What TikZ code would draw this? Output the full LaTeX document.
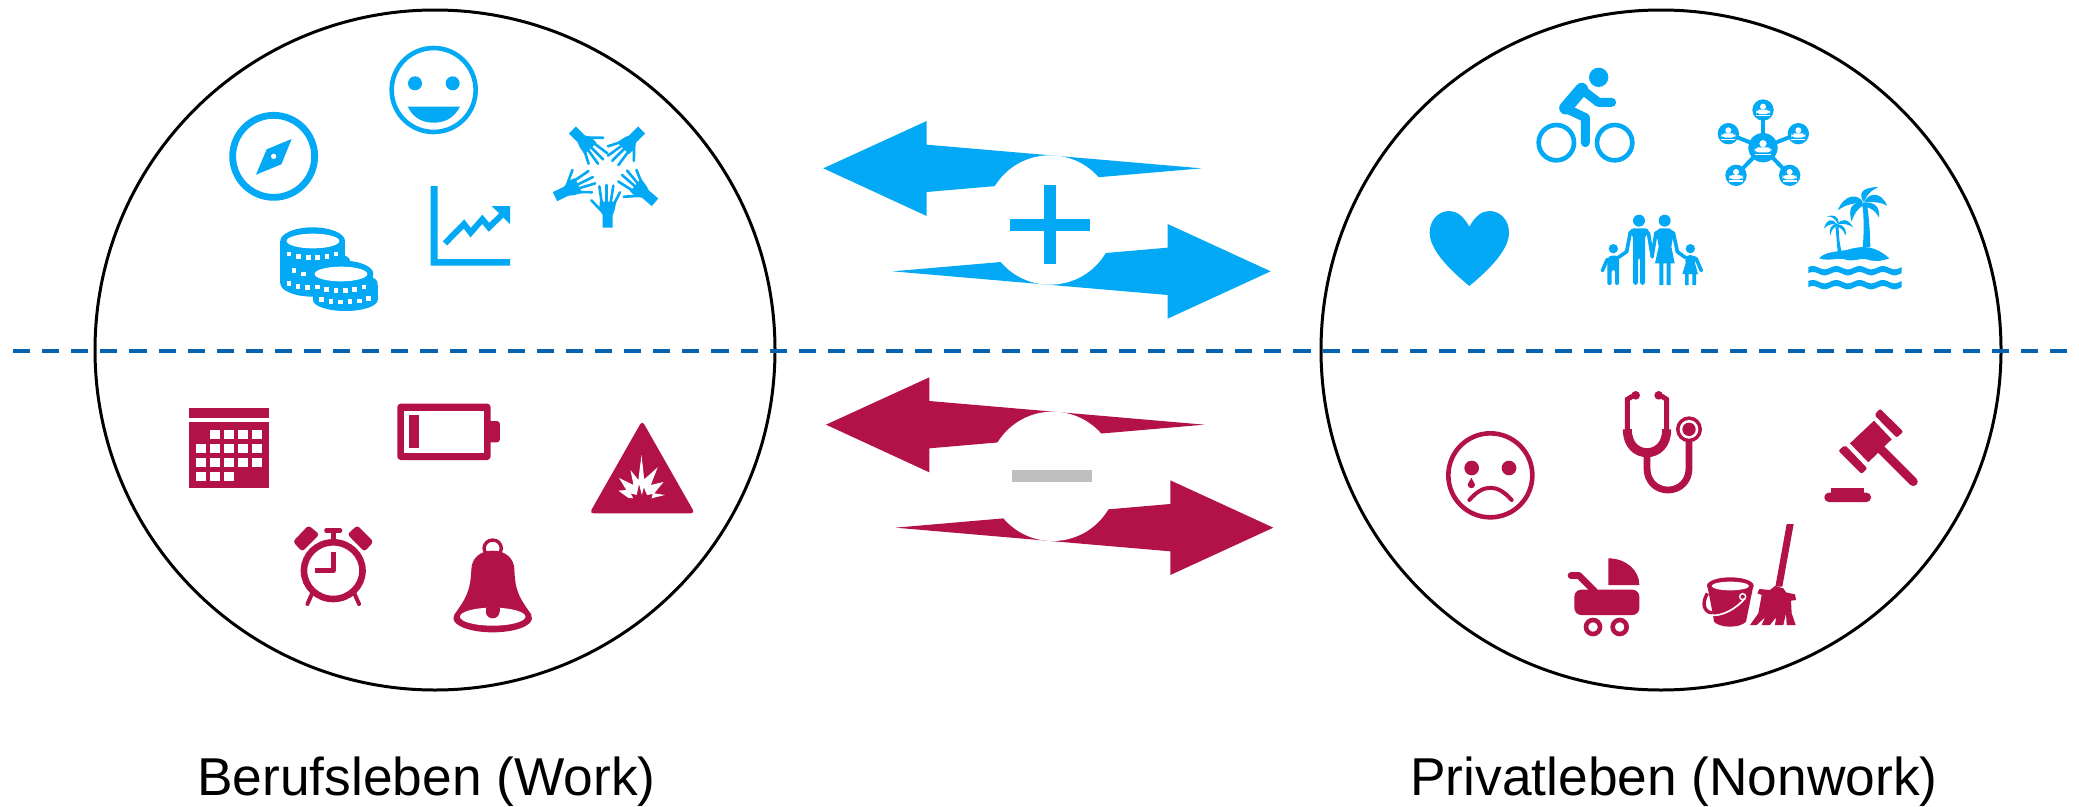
\documentclass[tikz,border=0pt]{standalone}
\usepackage{fontspec}
\setmainfont{Liberation Sans}
\definecolor{iblue}{HTML}{04A9F5}
\definecolor{ired}{HTML}{B31249}
\definecolor{dashblue}{HTML}{0563AF}
\definecolor{mgrey}{HTML}{BFBFBF}
\tikzset{
  bigcircle/.style={draw=black,line width=3pt},
  sepline/.style={draw=dashblue,line width=4.4pt,dash pattern=on 17.1pt off 12pt},
  textlabel/.style={font=\fontsize{53.3}{60}\selectfont,text=black,inner sep=0pt,anchor=base},
  rl/.style={line cap=round,line join=round},
  zoomA/.style={shift={(180,20)},x=0.33333pt,y=-0.33333pt},
  zoomB/.style={shift={(170,380)},x=0.34439pt,y=-0.33333pt},
  zoomC/.style={shift={(1400,50)},x=0.33333pt,y=-0.33333pt},
  zoomD/.style={shift={(1420,380)},x=0.33333pt,y=-0.33333pt},
  zoomE/.style={shift={(800,100)},x=0.33333pt,y=-0.33333pt},
}
% hand icon: wrist end at (#1,#2), turned by #3
\newcommand{\handicon}[3]{%
  \begin{scope}[shift={(1080+#1,285+#2)},rotate=#3]
    \fill[iblue] (-15,0) -- (-15,-38) -- (-25,-55) -- (-24,-78) -- (26,-78) -- (20,-50) -- (15,-38) -- (15,0) -- cycle;
    \draw[iblue,rl,line width=2.6pt] (-18,-76) -- (-25,-124);
    \draw[iblue,rl,line width=2.6pt] (-3,-76) -- (-3,-128);
    \draw[iblue,rl,line width=2.6pt] (9,-76) -- (17,-126);
    \draw[iblue,rl,line width=2.6pt] (19,-71) -- (37,-106);
    \draw[iblue,rl,line width=2.6pt] (-18,-50) -- (-49,-82);
  \end{scope}}
% white person on a network disc
\newcommand{\personicon}[3]{%
  \begin{scope}[shift={(#1,#2)},scale=#3]
    \fill[white] (0,-10) circle[radius=9];
    \fill[white,rounded corners=4pt] (-21,12) -- (-21,0) -- (-8,-1) -- (8,-1) -- (21,0) -- (21,12) -- cycle;
    \fill[white] (-21,15) rectangle (21,19);
  \end{scope}}
% slots of a coin edge
\newcommand{\coinslot}[2]{\fill[white] (#1-7,#2-7) rectangle (#1+7,#2+7);}
% wave band
\newcommand{\waveband}[1]{%
  \fill[iblue] plot[domain=1225:1505,samples=57] (\x,{#1-9+5*sin(5.142857*(\x-1225)+200)})
    -- plot[domain=1505:1225,samples=57] (\x,{#1+9+5*sin(5.142857*(\x-1225)+200)}) -- cycle;}
\begin{document}
\begin{tikzpicture}[x=1pt,y=-1pt]
\useasboundingbox (0,0) rectangle (2079,806);
\fill[white] (0,0) rectangle (2079,806);

% big circles
\draw[bigcircle] (435,350) circle[radius=340];
\draw[bigcircle] (1661,350) circle[radius=340];

% arrows
\begin{scope}[zoomE]
  \coordinate (hubplus) at (750,360);
  \coordinate (hubminus) at (758,1129);
  \fill[iblue] (70,205) -- (380,63) -- (380,134) -- (1205,205) -- (380,276) -- (380,348) -- cycle;
  \fill[iblue] (1412,514) -- (1103,372) -- (1103,443) -- (278,514) -- (1103,585) -- (1103,656) -- cycle;
  \fill[ired] (78,974) -- (388,832) -- (388,903) -- (1213,974) -- (388,1045) -- (388,1117) -- cycle;
  \fill[ired] (1420,1283) -- (1111,1141) -- (1111,1212) -- (286,1283) -- (1111,1354) -- (1111,1425) -- cycle;
  \fill[white] (hubplus) circle[radius=194];
  \fill[white] (hubminus) circle[radius=194];
  \fill[iblue] (732,255) rectangle (768,493);
  \fill[iblue] (631,356) rectangle (869,392);
  \fill[mgrey] (637,1110) rectangle (876,1146);
\end{scope}

% ---------- Work, positive ----------
\begin{scope}[zoomA]
  % smile
  \draw[iblue,line width=4.6pt] (761,210) circle[radius=126];
  \fill[iblue] (705,190) circle[radius=21];
  \fill[iblue] (818,190) circle[radius=21];
  \fill[iblue] (683,260) -- (840,260) .. controls (820,298) and (790,308) .. (761,308) .. controls (732,308) and (702,298) .. (683,260) -- cycle;
  % compass
  \draw[iblue,line width=6.8pt] (281,409) circle[radius=123];
  \fill[iblue] (335,357) -- (304,433) -- (228,464) -- (260,388) -- cycle;
  \fill[white] (281,409) circle[radius=8];
  % chart
  \fill[iblue] (752,498) -- (773,498) -- (773,717) -- (990,717) -- (990,737) -- (752,737) -- cycle;
  \draw[iblue,line width=6pt] (795,670) -- (852,612) -- (872,638) -- (907,598) -- (927,622) -- (965,585);
  \fill[iblue] (935,558) -- (990,558) -- (990,612) -- cycle;
  % coins, left stack
  \fill[iblue] (398,663) ellipse[x radius=97,y radius=41];
  \fill[iblue] (405,722) ellipse[x radius=105,y radius=30];
  \fill[iblue] (301,663) rectangle (495,790);
  \fill[iblue] (398,790) ellipse[x radius=97,y radius=40];
  \fill[white] (399,663) ellipse[x radius=79,y radius=22];
  \coinslot{327}{702}\coinslot{356}{710}\coinslot{385}{713}\coinslot{413}{713}\coinslot{441}{710}\coinslot{468}{702}
  \coinslot{342}{752}\coinslot{371}{762}
  \coinslot{327}{790}\coinslot{354}{799}\coinslot{382}{803}
  % coins, right stack
  \fill[iblue] (490,762) ellipse[x radius=90,y radius=40];
  \fill[iblue] (400,762) rectangle (580,800);
  \fill[iblue] (400,795) rectangle (593,840);
  \fill[iblue] (496,840) ellipse[x radius=97,y radius=33];
  \fill[iblue] (515,790) ellipse[x radius=78,y radius=30];
  \fill[white] (483,762) ellipse[x radius=79,y radius=22];
  \coinslot{412}{801}\coinslot{440}{808}\coinslot{468}{811}\coinslot{496}{811}\coinslot{524}{808}\coinslot{552}{801}
  \coinslot{425}{838}\coinslot{453}{845}\coinslot{482}{846}\coinslot{510}{845}\coinslot{538}{843}\coinslot{566}{836}
  % hands
  \handicon{203}{338}{0}
  \handicon{45}{245}{-64}
  \handicon{97}{45}{-135}
  \handicon{305}{45}{-225}
  \handicon{345}{262}{49}
\end{scope}

% ---------- Work, negative ----------
\begin{scope}[zoomB]
  % calendar
  \fill[ired] (55,84) rectangle (287,114);
  \fill[ired] (55,127) rectangle (287,324);
  \foreach \cx in {117,158,198,239} {\fill[white] (\cx,149) rectangle (\cx+28,177);}
  \foreach \cx in {76,117,158,198,239} {\fill[white] (\cx,191) rectangle (\cx+28,219);
    \fill[white] (\cx,233) rectangle (\cx+28,261);}
  \foreach \cx in {76,117,158} {\fill[white] (\cx,275) rectangle (\cx+28,303);}
  % battery
  \fill[ired,rounded corners=3.5pt] (660,71) rectangle (931,240);
  \fill[ired,rounded corners=3pt] (920,123) rectangle (958,187);
  \fill[white] (680,92) rectangle (911,218);
  \fill[ired] (694,105) rectangle (723,204);
  % warning triangle
  \fill[ired,rounded corners=4pt] (1371,122) -- (1524,400) -- (1218,400) -- cycle;
  \fill[white] (1369,225) -- (1377,298) -- (1416,262) -- (1396,315) -- (1433,306) -- (1406,340) -- (1437,345) -- (1398,355) -- (1402,342) -- (1385,345) -- (1376,322) -- (1370,345) -- (1362,312) -- (1355,345) -- (1338,340) -- (1345,355) -- (1330,353) -- (1302,332) -- (1325,330) -- (1304,294) -- (1346,315) -- (1337,270) -- (1360,300) -- cycle;
  % alarm clock
  \draw[ired,line width=6.6pt] (474,572) circle[radius=85];
  \draw[ired,line width=4.6pt,line join=round] (474,516) -- (474,572) -- (420,572);
  \draw[ired,line width=4.6pt] (474,452) -- (474,480);
  \draw[ired,rl,line width=4.4pt] (454,452) -- (494,452);
  \fill[ired,rounded corners=3pt] (402,436) -- (434,463) -- (384,515) -- (357,485) -- cycle;
  \fill[ired,rounded corners=3pt] (544,436) -- (591,485) -- (565,515) -- (515,463) -- cycle;
  \draw[ired,rl,line width=4pt] (412,642) -- (399,672);
  \draw[ired,rl,line width=4pt] (536,642) -- (549,672);
  % bell
  \draw[ired,line width=3.4pt] (937,505) circle[radius=25];
  \fill[ired] (875,570) .. controls (875,535) and (900,512) .. (937,512) .. controls (974,512) and (1000,535) .. (1000,570)
     .. controls (1002,640) and (1020,660) .. (1050,705) -- (825,705) .. controls (855,660) and (872,640) .. (875,570) -- cycle;
  \fill[ired] (937,715) ellipse[x radius=114,y radius=42];
  \fill[white] (937,710) ellipse[x radius=95,y radius=27];
  \fill[ired] (917,683) rectangle (957,695);
  \fill[ired] (937,695) circle[radius=20];
\end{scope}

% ---------- Nonwork, positive ----------
\begin{scope}[zoomC]
  % cyclist
  \fill[iblue] (596,82) circle[radius=29];
  \draw[iblue,line width=4.6pt] (469,278) circle[radius=53];
  \draw[iblue,line width=4.6pt] (644,278) circle[radius=53];
  \draw[iblue,rl,line width=13pt] (497,174) -- (545,118);
  \draw[iblue,rl,line width=9pt] (545,118) -- (595,157) -- (635,157);
  \draw[iblue,rl,line width=9pt] (497,175) -- (556,203) -- (556,278);
  % network
  \foreach \sx/\sy in {1089/180,985/251,1195/251,1008/376,1169/376} {
    \draw[iblue,line width=4pt] (1089,293) -- (\sx,\sy);
    \fill[iblue] (\sx,\sy) circle[radius=32];
    \personicon{\sx}{\sy}{1}
  }
  \fill[iblue] (1089,293) circle[radius=44];
  \personicon{1089}{293}{1.2}
  % heart
  \fill[iblue] (208,530) .. controls (190,498) and (170,483) .. (148,483) .. controls (115,483) and (89,510) .. (89,548) .. controls (89,600) and (150,660) .. (208,708) .. controls (266,660) and (327,600) .. (327,548) .. controls (327,510) and (301,483) .. (268,483) .. controls (246,483) and (226,498) .. (208,530) -- cycle;
  % family
  \fill[iblue] (717,512) circle[radius=18];
  \fill[iblue] (794,512) circle[radius=18];
  \fill[iblue] (640,596) circle[radius=14];
  \fill[iblue] (871,596) circle[radius=14];
  \fill[iblue,rounded corners=3pt] (699,705) -- (699,555) -- (688,552) -- (692,535) -- (745,535) -- (748,552) -- (735,555) -- (735,705) -- (720,705) -- (720,622) -- (714,622) -- (714,705) -- cycle;
  \fill[iblue] (778,705) -- (778,640) -- (765,640) -- (776,590) -- (770,555) -- (766,545) -- (780,535) -- (808,535) -- (822,545) -- (814,590) -- (824,640) -- (812,640) -- (812,705) -- (800,705) -- (800,640) -- (790,640) -- (790,705) -- cycle;
  \draw[iblue,rl,line width=3.6pt] (691,546) -- (680,605) -- (655,622);
  \draw[iblue,rl,line width=3.6pt] (745,548) -- (757,620);
  \draw[iblue,rl,line width=3.6pt] (768,548) -- (756,620);
  \draw[iblue,rl,line width=3.6pt] (820,548) -- (832,605) -- (855,622);
  \fill[iblue,rounded corners=2pt] (622,705) -- (622,622) -- (640,615) -- (657,620) -- (657,705) -- (645,705) -- (645,660) -- (635,660) -- (635,705) -- cycle;
  \draw[iblue,rl,line width=3.6pt] (622,628) -- (607,662);
  \fill[iblue] (855,705) -- (855,672) -- (847,672) -- (857,640) -- (855,620) -- (871,615) -- (888,620) -- (885,640) -- (894,672) -- (888,672) -- (888,705) -- (877,705) -- (877,672) -- (866,672) -- (866,705) -- cycle;
  \draw[iblue,rl,line width=3.6pt] (888,625) -- (904,662);
  % island
  \waveband{662}
  \waveband{704}
  \fill[iblue] (1257,625) .. controls (1275,605) and (1310,605) .. (1340,600) .. controls (1380,588) and (1420,582) .. (1468,625) .. controls (1440,635) and (1420,635) .. (1400,628) .. controls (1380,622) and (1360,638) .. (1335,628) .. controls (1310,622) and (1290,635) .. (1257,625) -- cycle;
  \fill[iblue] (1388,592) .. controls (1392,550) and (1392,510) .. (1388,470) -- (1402,470) .. controls (1408,510) and (1410,550) .. (1411,592) -- cycle;
  \fill[iblue] (1390,458) .. controls (1375,430) and (1335,430) .. (1313,481) .. controls (1340,462) and (1360,460) .. (1390,458) -- cycle;
  \fill[iblue] (1385,455) .. controls (1350,460) and (1345,480) .. (1355,515) .. controls (1362,490) and (1375,475) .. (1390,465) -- cycle;
  \fill[iblue] (1390,455) .. controls (1375,430) and (1385,412) .. (1435,411) .. controls (1420,420) and (1405,425) .. (1395,450) -- cycle;
  \fill[iblue] (1392,458) .. controls (1405,425) and (1445,425) .. (1461,467) .. controls (1440,455) and (1415,455) .. (1392,458) -- cycle;
  \fill[iblue] (1390,458) .. controls (1425,455) and (1440,470) .. (1437,503) .. controls (1425,480) and (1410,470) .. (1385,470) -- cycle;
  \fill[iblue] (1306,530) .. controls (1310,560) and (1310,580) .. (1313,604) -- (1325,604) .. controls (1318,580) and (1316,555) .. (1316,530) -- cycle;
  \fill[iblue] (1310,522) .. controls (1300,505) and (1280,505) .. (1272,535) .. controls (1285,522) and (1298,522) .. (1310,522) -- cycle;
  \fill[iblue] (1310,520) .. controls (1295,525) and (1285,535) .. (1291,556) .. controls (1295,540) and (1300,530) .. (1312,528) -- cycle;
  \fill[iblue] (1312,520) .. controls (1305,505) and (1295,498) .. (1280,500) .. controls (1300,492) and (1315,498) .. (1316,520) -- cycle;
  \fill[iblue] (1312,522) .. controls (1325,505) and (1345,505) .. (1359,532) .. controls (1345,522) and (1330,520) .. (1312,522) -- cycle;
  \fill[iblue] (1312,522) .. controls (1330,525) and (1340,535) .. (1337,556) .. controls (1330,540) and (1322,532) .. (1310,530) -- cycle;
\end{scope}

% ---------- Nonwork, negative ----------
\begin{scope}[zoomD]
  % sad face
  \draw[ired,line width=4.6pt] (211,286) circle[radius=126];
  \fill[ired] (155,264) circle[radius=22];
  \fill[ired] (267,264) circle[radius=22];
  \fill[ired] (154,293) .. controls (158,303) and (165,308) .. (165,314) .. controls (165,328) and (143,328) .. (143,314) .. controls (143,308) and (150,303) .. (154,293) -- cycle;
  \draw[ired,rl,line width=4pt] (148,360) .. controls (190,311) and (232,311) .. (275,360);
  % stethoscope
  \draw[ired,line width=5pt] (622,150) -- (622,58) -- (638,48);
  \draw[ired,line width=5pt] (740,150) -- (740,58) -- (724,48);
  \fill[ired] (647,46) circle[radius=13];
  \fill[ired] (716,46) circle[radius=13];
  \draw[ired,line width=9pt] (622,148) .. controls (622,195) and (650,218) .. (681,218) .. controls (712,218) and (740,195) .. (740,148);
  \draw[ired,line width=6.8pt] (681,225) -- (681,265) .. controls (681,305) and (710,330) .. (744,330) .. controls (778,330) and (807,305) .. (807,265) -- (807,180);
  \fill[ired] (807,148) circle[radius=39];
  \fill[white] (807,148) circle[radius=28];
  \fill[ired] (807,148) circle[radius=20];
  % gavel
  \fill[ired] (1362,122) -- (1415,178) -- (1345,247) -- (1290,190) -- cycle;
  \fill[ired,rounded corners=2pt] (1380,86) -- (1450,155) -- (1430,173) -- (1363,105) -- cycle;
  \fill[ired,rounded corners=2pt] (1275,195) -- (1342,265) -- (1325,282) -- (1255,212) -- cycle;
  \draw[ired,line width=8.8pt,line cap=round] (1380,205) -- (1480,305);
  \fill[ired] (1234,324) rectangle (1332,345);
  \fill[ired,rounded corners=4.5pt] (1213,338) rectangle (1353,366);
  % pram
  \fill[ired] (565,535) .. controls (617,535) and (658,570) .. (658,615) -- (565,615) -- cycle;
  \fill[ired,rounded corners=7pt] (463,629) -- (658,629) -- (658,705) -- (463,705) -- cycle;
  \draw[ired,line width=6.6pt,line cap=round] (453,587) -- (477,587);
  \draw[ired,line width=6.6pt] (477,587) -- (525,635);
  \draw[ired,line width=4.6pt] (519,741) circle[radius=21];
  \draw[ired,line width=4.6pt] (599,741) circle[radius=21];
  % bucket
  \draw[ired,line width=3.4pt] (862,640) .. controls (845,670) and (850,695) .. (878,700);
  \fill[ired] (862,617) -- (1000,617) -- (978,725) .. controls (960,745) and (900,745) .. (882,725) -- (878,700) -- cycle;
  \fill[ired] (931,617) ellipse[x radius=70,y radius=25];
  \fill[white] (931,618) ellipse[x radius=56,y radius=13];
  \draw[white,line width=1.7pt] (868,705) .. controls (905,712) and (950,685) .. (975,655);
  \draw[white,line width=1.4pt] (968,650) circle[radius=9];
  % broom
  \fill[ired] (1100,432) -- (1121,432) -- (1087,620) -- (1066,620) -- cycle;
  \fill[ired] (1065,618) -- (1090,625) -- (1098,637) -- (1125,643) -- (1128,660) -- (1113,662) -- (1115,700) -- (1127,735) -- (1100,735) -- (1098,700) -- (1090,735) -- (1065,735) -- (1068,712) -- (1050,735) -- (1025,735) -- (1035,712) -- (1010,735) -- (990,735) -- (1015,700) -- (1025,645) -- (1012,640) -- (1018,627) -- (1050,630) -- cycle;
\end{scope}

% separator
\coordinate (sepL) at (13,351);
\coordinate (sepR) at (2070,351);
\draw[sepline] (sepL) -- (sepR);

% labels
\node[textlabel] (work) at (426.5,795) {Berufsleben (Work)};
\node[textlabel] (nonwork) at (1674,795) {Privatleben (Nonwork)};
\end{tikzpicture}
\end{document}
